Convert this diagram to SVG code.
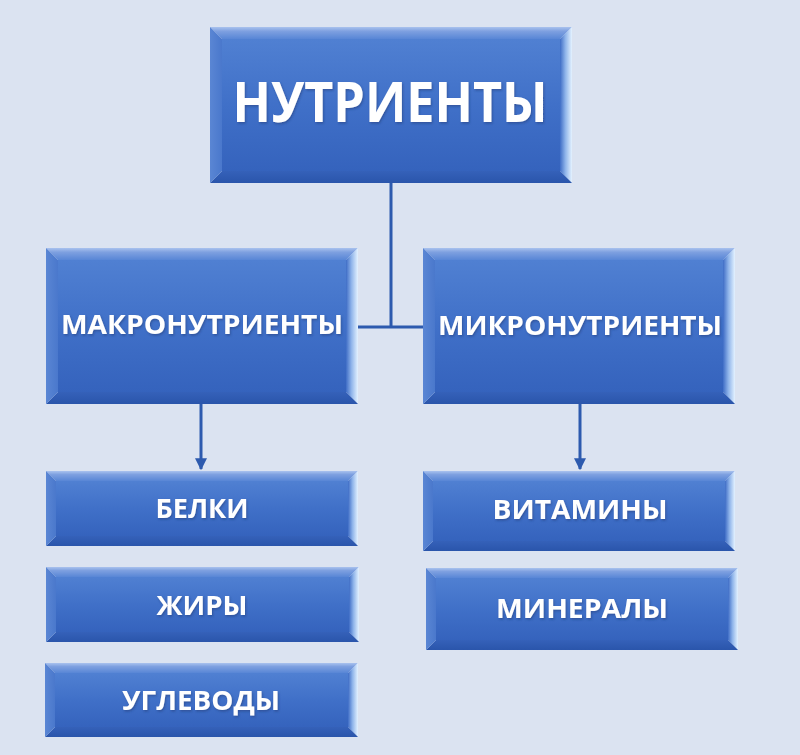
<svg xmlns="http://www.w3.org/2000/svg" width="800" height="755" viewBox="0 0 800 755">
<defs>
<linearGradient id="gTop" x1="0" y1="0" x2="0" y2="1"><stop offset="0" stop-color="#a9c2ee"/><stop offset="0.35" stop-color="#7ea0e0"/><stop offset="1" stop-color="#5886d6"/></linearGradient>
<linearGradient id="gRight" x1="0" y1="0" x2="1" y2="0"><stop offset="0" stop-color="#3f6dc6"/><stop offset="0.45" stop-color="#8fb4ea"/><stop offset="1" stop-color="#e4f2ff"/></linearGradient>
<linearGradient id="gLeft" x1="0" y1="0" x2="1" y2="0"><stop offset="0" stop-color="#5a86d4"/><stop offset="1" stop-color="#4a78cc"/></linearGradient>
<linearGradient id="gBottom" x1="0" y1="0" x2="0" y2="1"><stop offset="0" stop-color="#3561b9"/><stop offset="1" stop-color="#2a55ab"/></linearGradient>
<linearGradient id="gFace" x1="0" y1="0" x2="0" y2="1"><stop offset="0" stop-color="#5080d2"/><stop offset="0.5" stop-color="#4070c8"/><stop offset="1" stop-color="#3563bd"/></linearGradient>
<marker id="arr" viewBox="0 0 10 10" refX="9" refY="5" markerWidth="4" markerHeight="4" orient="auto" markerUnits="strokeWidth"><path d="M0,0 L10,5 L0,10 z" fill="#2d5aae"/></marker>
<filter id="ts" x="-5%" y="-20%" width="110%" height="140%"><feDropShadow dx="1" dy="1.5" stdDeviation="1" flood-color="#1a3470" flood-opacity="0.5"/></filter>
</defs>
<style>
.t{fill:url(#gTop)}.r{fill:url(#gRight)}.l{fill:url(#gLeft)}.b{fill:url(#gBottom)}.f{fill:url(#gFace)}
.lbl{font-family:"Open Sans","Liberation Sans",sans-serif;font-weight:bold;fill:#ffffff;text-anchor:middle;filter:url(#ts)}
.con{stroke:#2d5aae;stroke-width:3;fill:none}
</style>
<rect width="800" height="755" fill="#dbe3f1"/>
<g id="connectors">
<path class="con" d="M391,183 V327 M358,327 H423"/>
<line class="con" x1="201" y1="404" x2="201" y2="469" marker-end="url(#arr)"/>
<line class="con" x1="580" y1="404" x2="580" y2="469" marker-end="url(#arr)"/>
</g>
<g id="n-nutrienty">
<polygon class="t" points="210,27 572,27 560,39 222,39"/>
<polygon class="r" points="560,39 572,27 572,183 560,171"/>
<polygon class="b" points="210,183 572,183 560,171 222,171"/>
<polygon class="l" points="210,27 222,39 222,171 210,183"/>
<rect class="f" x="222" y="39" width="338" height="132"/>
<text class="lbl" x="390" y="122" font-size="55" textLength="315" lengthAdjust="spacingAndGlyphs">НУТРИЕНТЫ</text>
</g>
<g id="n-makro">
<polygon class="t" points="46,248 358,248 346,260 58,260"/>
<polygon class="r" points="346,260 358,248 358,404 346,392"/>
<polygon class="b" points="46,404 358,404 346,392 58,392"/>
<polygon class="l" points="46,248 58,260 58,392 46,404"/>
<rect class="f" x="58" y="260" width="288" height="132"/>
<text class="lbl" x="202" y="334" font-size="27" textLength="282" lengthAdjust="spacingAndGlyphs">МАКРОНУТРИЕНТЫ</text>
</g>
<g id="n-mikro">
<polygon class="t" points="423,248 735,248 723,260 435,260"/>
<polygon class="r" points="723,260 735,248 735,404 723,392"/>
<polygon class="b" points="423,404 735,404 723,392 435,392"/>
<polygon class="l" points="423,248 435,260 435,392 423,404"/>
<rect class="f" x="435" y="260" width="288" height="132"/>
<text class="lbl" x="580" y="335" font-size="27" textLength="284" lengthAdjust="spacingAndGlyphs">МИКРОНУТРИЕНТЫ</text>
</g>
<g id="n-belki">
<polygon class="t" points="46,471 358,471 348,481 56,481"/>
<polygon class="r" points="348,481 358,471 358,546 348,536"/>
<polygon class="b" points="46,546 358,546 348,536 56,536"/>
<polygon class="l" points="46,471 56,481 56,536 46,546"/>
<rect class="f" x="56" y="481" width="292" height="55"/>
<text class="lbl" x="202" y="518" font-size="27" textLength="93" lengthAdjust="spacingAndGlyphs">БЕЛКИ</text>
</g>
<g id="n-zhiry">
<polygon class="t" points="46,567 359,567 349,577 56,577"/>
<polygon class="r" points="349,577 359,567 359,642 349,632"/>
<polygon class="b" points="46,642 359,642 349,632 56,632"/>
<polygon class="l" points="46,567 56,577 56,632 46,642"/>
<rect class="f" x="56" y="577" width="293" height="55"/>
<text class="lbl" x="202" y="615" font-size="27" textLength="91" lengthAdjust="spacingAndGlyphs">ЖИРЫ</text>
</g>
<g id="n-uglevody">
<polygon class="t" points="45,663 358,663 348,673 55,673"/>
<polygon class="r" points="348,673 358,663 358,737 348,727"/>
<polygon class="b" points="45,737 358,737 348,727 55,727"/>
<polygon class="l" points="45,663 55,673 55,727 45,737"/>
<rect class="f" x="55" y="673" width="293" height="54"/>
<text class="lbl" x="201" y="710" font-size="27" textLength="158" lengthAdjust="spacingAndGlyphs">УГЛЕВОДЫ</text>
</g>
<g id="n-vitaminy">
<polygon class="t" points="423,471 735,471 725,481 433,481"/>
<polygon class="r" points="725,481 735,471 735,551 725,541"/>
<polygon class="b" points="423,551 735,551 725,541 433,541"/>
<polygon class="l" points="423,471 433,481 433,541 423,551"/>
<rect class="f" x="433" y="481" width="292" height="60"/>
<text class="lbl" x="580" y="519" font-size="27" textLength="175" lengthAdjust="spacingAndGlyphs">ВИТАМИНЫ</text>
</g>
<g id="n-mineraly">
<polygon class="t" points="426,568 738,568 728,578 436,578"/>
<polygon class="r" points="728,578 738,568 738,650 728,640"/>
<polygon class="b" points="426,650 738,650 728,640 436,640"/>
<polygon class="l" points="426,568 436,578 436,640 426,650"/>
<rect class="f" x="436" y="578" width="292" height="62"/>
<text class="lbl" x="582" y="618" font-size="27" textLength="172" lengthAdjust="spacingAndGlyphs">МИНЕРАЛЫ</text>
</g>
</svg>
